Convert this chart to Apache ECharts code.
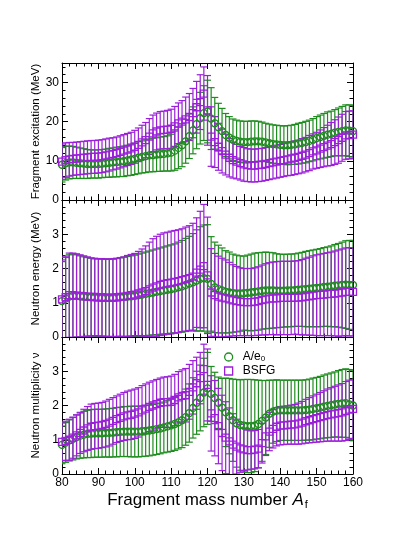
<!DOCTYPE html>
<html>
<head>
<meta charset="utf-8">
<script src="https://cdn.jsdelivr.net/npm/echarts@6/dist/echarts.min.js"></script>
<style>
  html, body { margin: 0; padding: 0; background: #fff; }
  #chart-container { width: 415px; height: 537px; }
</style>
</head>
<body>
<div id="chart-container"></div>
<script>
// fragment mass numbers
var massNumbers = [
  80, 81, 82, 83, 84, 85, 86, 87, 88, 89, 90, 91, 92, 93, 94, 95, 96, 97, 98, 99,
  100, 101, 102, 103, 104, 105, 106, 107, 108, 109, 110, 111, 112, 113, 114, 115, 116, 117, 118, 119,
  120, 121, 122, 123, 124, 125, 126, 127, 128, 129, 130, 131, 132, 133, 134, 135, 136, 137, 138, 139,
  140, 141, 142, 143, 144, 145, 146, 147, 148, 149, 150, 151, 152, 153, 154, 155, 156, 157, 158, 159, 160
];

// fragment excitation (MeV)
var excGreen = [
  9.0, 9.4, 9.6, 9.6, 9.5, 9.4, 9.3, 9.2, 9.2, 9.2, 9.2, 9.3, 9.4, 9.5, 9.6, 9.7, 9.8, 9.9, 10.1, 10.3,
  10.5, 10.8, 11.0, 11.2, 11.4, 11.5, 11.6, 11.7, 11.8, 11.9, 12.1, 12.6, 13.3, 14.0, 15.0, 16.3, 17.8, 19.4, 20.9, 22.2,
  22.6, 20.8, 19.6, 18.6, 17.6, 16.6, 15.9, 15.4, 15.1, 14.9, 14.8, 14.8, 14.9, 15.0, 15.0, 14.9, 14.7, 14.5, 14.3, 14.2,
  14.1, 14.0, 14.0, 14.1, 14.2, 14.4, 14.6, 14.8, 15.1, 15.4, 15.8, 16.1, 16.4, 16.7, 16.9, 17.2, 17.4, 17.6, 17.8, 17.7, 17.6
];
var excGreenErr = [
  4.4, 4.3, 4.2, 4.1, 4.0, 3.9, 3.8, 3.7, 3.6, 3.6, 3.6, 3.6, 3.6, 3.7, 3.7, 3.8, 3.8, 3.9, 3.9, 4.0,
  4.0, 4.1, 4.1, 4.2, 4.2, 4.3, 4.3, 4.4, 4.4, 4.5, 4.7, 5.0, 5.3, 5.5, 5.6, 5.7, 6.0, 6.3, 6.6, 7.0,
  8.0, 7.9, 6.6, 6.1, 5.8, 5.5, 5.4, 5.3, 5.3, 5.3, 5.3, 5.3, 5.3, 5.2, 5.1, 5.0, 4.9, 4.9, 4.9, 4.9,
  4.9, 4.9, 5.0, 5.0, 5.1, 5.2, 5.2, 5.3, 5.3, 5.4, 5.5, 5.6, 5.7, 5.8, 5.8, 5.9, 6.1, 6.3, 6.5, 6.6, 6.6
];
var excPurple = [
  9.8, 10.2, 10.4, 10.5, 10.6, 10.7, 10.8, 10.9, 11.0, 11.0, 11.1, 11.2, 11.4, 11.6, 11.8, 12.0, 12.3, 12.6, 12.9, 13.2,
  13.6, 14.1, 14.7, 15.3, 16.2, 17.0, 17.5, 17.8, 17.9, 18.0, 18.2, 18.8, 19.6, 20.0, 20.6, 21.2, 22.2, 23.7, 25.0, 27.2,
  22.9, 16.2, 14.8, 13.6, 12.5, 11.6, 10.8, 10.2, 9.8, 9.4, 9.1, 8.9, 8.8, 8.8, 8.9, 9.0, 9.2, 9.4, 9.6, 9.8,
  10.0, 10.2, 10.4, 10.6, 10.8, 11.0, 11.3, 11.6, 12.0, 12.4, 12.7, 13.1, 13.5, 13.9, 14.3, 14.8, 15.3, 15.9, 16.5, 16.6, 16.7
];
var excPurpleErr = [
  4.5, 4.4, 4.3, 4.2, 4.2, 4.2, 4.2, 4.2, 4.2, 4.2, 4.2, 4.2, 4.2, 4.2, 4.1, 4.1, 4.1, 4.1, 4.1, 4.1,
  4.2, 4.3, 4.4, 4.5, 4.6, 4.7, 4.7, 4.8, 4.8, 4.9, 5.0, 5.1, 5.2, 5.4, 5.7, 6.0, 6.3, 6.6, 7.0, 6.8,
  8.9, 7.6, 6.5, 6.0, 5.6, 5.2, 4.9, 4.6, 4.4, 4.3, 4.3, 4.2, 4.2, 4.2, 4.2, 4.2, 4.2, 4.2, 4.2, 4.2,
  4.2, 4.2, 4.2, 4.3, 4.3, 4.3, 4.4, 4.4, 4.5, 4.5, 4.6, 4.8, 5.0, 5.2, 5.5, 5.7, 5.9, 6.0, 6.1, 6.1, 6.1
];

// neutron energy (MeV)
var enGreen = [
  1.05, 1.12, 1.18, 1.2, 1.2, 1.19, 1.18, 1.17, 1.16, 1.15, 1.15, 1.14, 1.14, 1.14, 1.14, 1.15, 1.16, 1.17, 1.18, 1.19,
  1.2, 1.22, 1.24, 1.26, 1.28, 1.3, 1.32, 1.34, 1.36, 1.38, 1.4, 1.42, 1.45, 1.48, 1.52, 1.56, 1.6, 1.65, 1.7, 1.72,
  1.7, 1.55, 1.45, 1.4, 1.36, 1.32, 1.3, 1.28, 1.27, 1.27, 1.28, 1.29, 1.3, 1.32, 1.33, 1.35, 1.36, 1.36, 1.36, 1.35,
  1.35, 1.35, 1.36, 1.36, 1.37, 1.38, 1.39, 1.4, 1.41, 1.42, 1.43, 1.44, 1.46, 1.47, 1.48, 1.5, 1.51, 1.52, 1.53, 1.52, 1.52
];
var enGreenErr = [
  1.15, 1.2, 1.22, 1.22, 1.2, 1.18, 1.16, 1.15, 1.14, 1.13, 1.13, 1.13, 1.13, 1.13, 1.13, 1.14, 1.15, 1.16, 1.17, 1.18,
  1.19, 1.2, 1.21, 1.22, 1.23, 1.24, 1.25, 1.26, 1.27, 1.28, 1.29, 1.3, 1.32, 1.34, 1.36, 1.38, 1.42, 1.48, 1.52, 1.55,
  1.58, 1.38, 1.32, 1.28, 1.24, 1.2, 1.18, 1.14, 1.12, 1.1, 1.08, 1.1, 1.12, 1.13, 1.13, 1.12, 1.12, 1.11, 1.1, 1.08,
  1.07, 1.06, 1.06, 1.06, 1.06, 1.07, 1.08, 1.1, 1.11, 1.12, 1.13, 1.14, 1.15, 1.16, 1.18, 1.2, 1.22, 1.25, 1.28, 1.3, 1.3
];
var enPurple = [
  1.1, 1.16, 1.22, 1.22, 1.21, 1.2, 1.19, 1.18, 1.17, 1.17, 1.16, 1.16, 1.15, 1.15, 1.15, 1.16, 1.17, 1.18, 1.2, 1.22,
  1.24, 1.27, 1.3, 1.34, 1.39, 1.44, 1.48, 1.52, 1.55, 1.57, 1.59, 1.61, 1.63, 1.66, 1.69, 1.72, 1.76, 1.88, 1.97, 2.07,
  1.8, 1.3, 1.22, 1.18, 1.15, 1.13, 1.1, 1.07, 1.05, 1.03, 1.02, 1.02, 1.02, 1.03, 1.05, 1.08, 1.1, 1.12, 1.13, 1.13,
  1.14, 1.14, 1.14, 1.14, 1.15, 1.15, 1.16, 1.18, 1.19, 1.21, 1.22, 1.23, 1.24, 1.25, 1.26, 1.27, 1.28, 1.3, 1.32, 1.32, 1.32
];
var enPurpleErr = [
  1.15, 1.2, 1.23, 1.23, 1.22, 1.2, 1.18, 1.16, 1.14, 1.13, 1.13, 1.13, 1.13, 1.13, 1.14, 1.14, 1.15, 1.16, 1.18, 1.19,
  1.2, 1.23, 1.27, 1.32, 1.38, 1.43, 1.46, 1.48, 1.49, 1.49, 1.5, 1.5, 1.5, 1.5, 1.52, 1.53, 1.56, 1.6, 1.7, 1.8,
  1.7, 1.28, 1.22, 1.18, 1.15, 1.12, 1.08, 1.04, 1.01, 0.99, 0.98, 0.98, 0.98, 0.99, 1.0, 1.02, 1.04, 1.05, 1.06, 1.07,
  1.07, 1.07, 1.07, 1.07, 1.07, 1.08, 1.1, 1.12, 1.14, 1.16, 1.18, 1.19, 1.2, 1.21, 1.22, 1.24, 1.26, 1.27, 1.28, 1.29, 1.29
];

// neutron multiplicity
var nuGreen = [
  0.85, 0.92, 0.98, 1.03, 1.08, 1.12, 1.15, 1.17, 1.18, 1.19, 1.19, 1.19, 1.2, 1.2, 1.21, 1.22, 1.23, 1.24, 1.24, 1.24,
  1.24, 1.24, 1.25, 1.26, 1.27, 1.29, 1.31, 1.33, 1.36, 1.39, 1.42, 1.46, 1.51, 1.57, 1.66, 1.78, 1.93, 2.08, 2.22, 2.38,
  2.5, 2.34, 2.22, 2.08, 1.94, 1.8, 1.69, 1.57, 1.48, 1.43, 1.41, 1.4, 1.4, 1.41, 1.46, 1.55, 1.65, 1.76, 1.82, 1.85,
  1.86, 1.86, 1.86, 1.86, 1.86, 1.86, 1.86, 1.87, 1.88, 1.9, 1.92, 1.94, 1.97, 1.99, 2.01, 2.03, 2.05, 2.06, 2.07, 2.03, 2.0
];
var nuGreenErr = [
  0.55, 0.58, 0.6, 0.62, 0.64, 0.66, 0.68, 0.69, 0.7, 0.7, 0.7, 0.7, 0.7, 0.71, 0.71, 0.72, 0.72, 0.73, 0.73, 0.74,
  0.74, 0.74, 0.74, 0.74, 0.74, 0.74, 0.74, 0.74, 0.74, 0.75, 0.76, 0.77, 0.78, 0.8, 0.82, 0.85, 0.88, 0.92, 0.96, 1.0,
  1.05, 0.8, 0.75, 0.75, 0.85, 1.0, 1.1, 1.2, 1.28, 1.32, 1.35, 1.36, 1.36, 1.34, 1.28, 1.18, 1.08, 0.98, 0.92, 0.9,
  0.88, 0.88, 0.88, 0.88, 0.88, 0.88, 0.88, 0.88, 0.89, 0.9, 0.9, 0.91, 0.92, 0.93, 0.94, 0.95, 0.97, 0.99, 1.0, 1.02, 1.03
];
var nuPurple = [
  0.94, 0.97, 1.0, 1.06, 1.13, 1.2, 1.27, 1.33, 1.38, 1.4, 1.41, 1.43, 1.46, 1.5, 1.55, 1.6, 1.64, 1.68, 1.71, 1.73,
  1.76, 1.8, 1.86, 1.91, 1.96, 2.0, 2.04, 2.08, 2.1, 2.1, 2.11, 2.16, 2.24, 2.28, 2.3, 2.4, 2.53, 2.65, 2.8, 3.06,
  2.6, 1.77, 1.63, 1.4, 1.2, 1.06, 0.95, 0.86, 0.8, 0.75, 0.72, 0.7, 0.7, 0.71, 0.74, 0.9, 1.1, 1.24, 1.32, 1.38,
  1.41, 1.42, 1.43, 1.44, 1.45, 1.47, 1.5, 1.54, 1.57, 1.6, 1.63, 1.66, 1.69, 1.72, 1.74, 1.76, 1.78, 1.8, 1.84, 1.88, 1.9
];
var nuPurpleErr = [
  0.55, 0.57, 0.6, 0.6, 0.6, 0.6, 0.62, 0.64, 0.66, 0.66, 0.66, 0.66, 0.67, 0.68, 0.68, 0.68, 0.69, 0.7, 0.71, 0.72,
  0.72, 0.72, 0.72, 0.72, 0.72, 0.72, 0.72, 0.72, 0.73, 0.74, 0.75, 0.75, 0.75, 0.76, 0.78, 0.8, 0.78, 0.76, 0.75, 0.73,
  1.05, 1.1, 1.1, 1.1, 1.1, 1.05, 0.98, 0.9, 0.8, 0.7, 0.62, 0.58, 0.56, 0.56, 0.56, 0.58, 0.56, 0.56, 0.56, 0.56,
  0.56, 0.56, 0.56, 0.57, 0.58, 0.6, 0.62, 0.64, 0.66, 0.68, 0.7, 0.72, 0.74, 0.76, 0.78, 0.8, 0.82, 0.84, 0.86, 0.86, 0.86
];

var GREEN = '#1f8c1f';
var PURPLE = '#9b1fd8';
var FONT = 'Liberation Sans, Arial, Helvetica, sans-serif';

var dom = document.getElementById('chart-container');
var myChart = echarts.init(dom, null, { renderer: 'canvas' });

var panels = [
  { top: 63, max: 35, interval: 10, name: 'Fragment excitation (MeV)',
    green: excGreen, greenErr: excGreenErr, purple: excPurple, purpleErr: excPurpleErr },
  { top: 200, max: 4, interval: 1, name: 'Neutron energy (MeV)',
    green: enGreen, greenErr: enGreenErr, purple: enPurple, purpleErr: enPurpleErr },
  { top: 337, max: 4, interval: 1, name: 'Neutron multiplicity \u03bd',
    green: nuGreen, greenErr: nuGreenErr, purple: nuPurple, purpleErr: nuPurpleErr }
];

function points(vals) {
  return massNumbers.map(function (a, i) { return [a, vals[i]]; });
}
function bars(vals, errs) {
  return massNumbers.map(function (a, i) { return [a, vals[i] - errs[i], vals[i] + errs[i]]; });
}

function renderErrorBar(params, api) {
  var x = api.value(0);
  var lo = api.coord([x, api.value(1)]);
  var hi = api.coord([x, api.value(2)]);
  var half = 3.5;
  var style = { stroke: api.visual('color'), lineWidth: 1.2, fill: null };
  return {
    type: 'group',
    children: [
      { type: 'line', shape: { x1: lo[0], y1: lo[1], x2: hi[0], y2: hi[1] }, style: style },
      { type: 'line', shape: { x1: lo[0] - half, y1: lo[1], x2: lo[0] + half, y2: lo[1] }, style: style },
      { type: 'line', shape: { x1: hi[0] - half, y1: hi[1], x2: hi[0] + half, y2: hi[1] }, style: style }
    ]
  };
}

var grids = [], xAxes = [], yAxes = [], series = [];
var tickStyle = { color: '#000', width: 1 };

panels.forEach(function (p, k) {
  grids.push({ left: 62, width: 291, top: p.top, height: 137 });
  var isLast = k === panels.length - 1;
  [ 'bottom', 'top' ].forEach(function (pos) {
    var ax = {
      type: 'value', gridIndex: k, position: pos, min: 80, max: 160, interval: 10,
      axisLine: { show: true, onZero: false, lineStyle: tickStyle },
      axisTick: { show: true, inside: true, length: 6, lineStyle: tickStyle },
      minorTick: { show: true, splitNumber: 5, length: 3.5, lineStyle: tickStyle },
      splitLine: { show: false },
      axisLabel: { show: pos === 'bottom' && isLast, color: '#000', fontSize: 12, fontFamily: FONT, margin: 3 }
    };
    if (pos === 'bottom' && isLast) {
      ax.name = 'Fragment mass number {i|A}{sub|f}';
      ax.nameLocation = 'middle';
      ax.nameGap = 17;
      ax.nameTextStyle = {
        color: '#000', fontSize: 17, fontFamily: FONT,
        rich: {
          i: { fontSize: 17, fontStyle: 'italic', fontFamily: FONT, color: '#000' },
          sub: { fontSize: 11, fontFamily: FONT, color: '#000', padding: [8, 0, 0, 1] }
        }
      };
    }
    xAxes.push(ax);
  });
  [ 'left', 'right' ].forEach(function (pos) {
    var ay = {
      type: 'value', gridIndex: k, position: pos, min: 0, max: p.max, interval: p.interval,
      axisLine: { show: true, onZero: false, lineStyle: tickStyle },
      axisTick: { show: true, inside: true, length: 6, lineStyle: tickStyle },
      minorTick: { show: true, splitNumber: 5, length: 3.5, lineStyle: tickStyle },
      splitLine: { show: false },
      axisLabel: { show: pos === 'left', showMaxLabel: false, color: '#000', fontSize: 12, fontFamily: FONT, margin: 3 }
    };
    if (pos === 'left') {
      ay.name = p.name;
      ay.nameLocation = 'middle';
      ay.nameGap = 20;
      ay.nameMoveOverlap = false;
      ay.nameTextStyle = { color: '#000', fontSize: 11.5, fontFamily: FONT };
    }
    yAxes.push(ay);
  });

  var xi = k * 2, yi = k * 2;
  series.push({
    type: 'custom', name: 'A/e0 err', xAxisIndex: xi, yAxisIndex: yi, clip: true,
    renderItem: renderErrorBar, itemStyle: { color: GREEN },
    encode: { x: 0, y: [1, 2] }, data: bars(p.green, p.greenErr), silent: true
  });
  series.push({
    type: 'scatter', name: 'A/e0', xAxisIndex: xi, yAxisIndex: yi,
    symbol: 'circle', symbolSize: 7,
    itemStyle: { color: 'rgba(0,0,0,0)', borderColor: GREEN, borderWidth: 1.3, opacity: 1 },
    data: points(p.green)
  });
  series.push({
    type: 'custom', name: 'BSFG err', xAxisIndex: xi, yAxisIndex: yi, clip: true,
    renderItem: renderErrorBar, itemStyle: { color: PURPLE },
    encode: { x: 0, y: [1, 2] }, data: bars(p.purple, p.purpleErr), silent: true
  });
  series.push({
    type: 'scatter', name: 'BSFG', xAxisIndex: xi, yAxisIndex: yi,
    symbol: 'rect', symbolSize: 7,
    itemStyle: { color: 'rgba(0,0,0,0)', borderColor: PURPLE, borderWidth: 1.3, opacity: 1 },
    data: points(p.purple)
  });
});

var option = {
  backgroundColor: '#fff',
  animation: false,
  grid: grids,
  xAxis: xAxes,
  yAxis: yAxes,
  legend: {
    orient: 'vertical', left: 224, top: 351, padding: 0,
    itemWidth: 8, itemHeight: 8, itemGap: 2,
    selectedMode: false,
    data: [
      { name: 'A/e0', icon: 'circle', itemStyle: { color: 'rgba(0,0,0,0)', borderColor: GREEN, borderWidth: 1.3 } },
      { name: 'BSFG', icon: 'rect', itemStyle: { color: 'rgba(0,0,0,0)', borderColor: PURPLE, borderWidth: 1.3 } }
    ],
    formatter: function (name) { return name === 'A/e0' ? 'A/e{sub|0}' : name; },
    textStyle: {
      color: '#000', fontSize: 12, lineHeight: 12, fontFamily: FONT, padding: [0, 0, 0, 5],
      rich: { sub: { fontSize: 8, lineHeight: 4, verticalAlign: 'bottom', fontFamily: FONT, color: '#000' } }
    }
  },
  series: series
};

myChart.setOption(option);
window.addEventListener('resize', myChart.resize);
</script>
</body>
</html>
